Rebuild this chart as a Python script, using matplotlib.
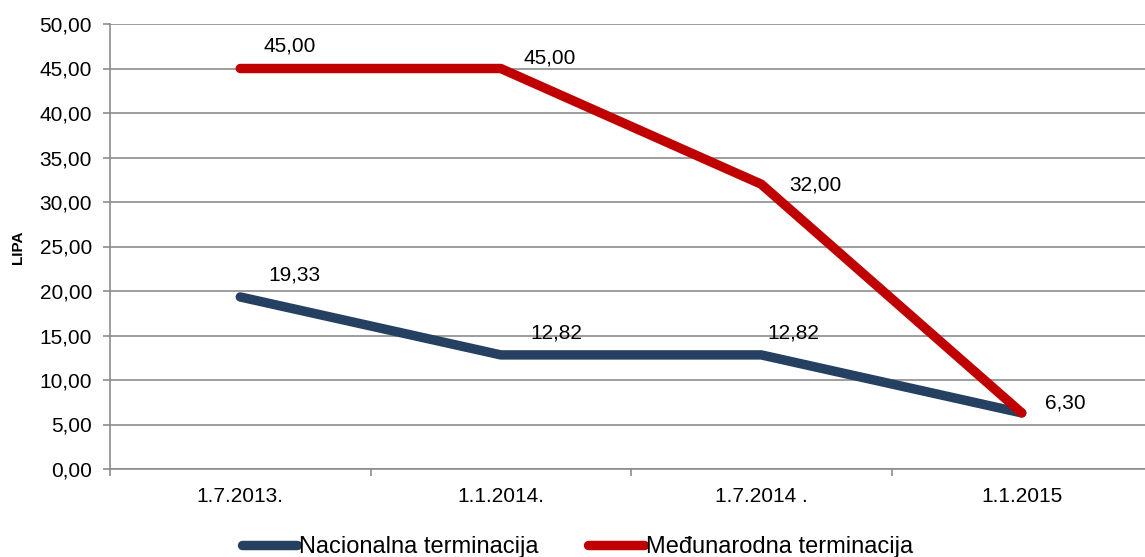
import matplotlib
matplotlib.use("Agg")
import matplotlib.pyplot as plt
from matplotlib.ticker import FixedLocator, MultipleLocator, FuncFormatter

plt.rcParams['font.family'] = ['Liberation Sans', 'DejaVu Sans']

categories = ["1.7.2013.", "1.1.2014.", "1.7.2014 .", "1.1.2015"]
nacionalna = [19.33, 12.82, 12.82, 6.30]
medjunarodna = [45.00, 45.00, 32.00, 6.30]
series_names = ["Nacionalna terminacija", "Međunarodna terminacija"]
ylabel = "LIPA"

fig = plt.figure(figsize=(11.45, 5.57), dpi=100)
ax = fig.add_axes([110/1145, 88/557, 1042/1145, 445/557])

x = list(range(len(categories)))
navy = "#254061"
red = "#C00000"
grey = "#8C8C8C"

l1, = ax.plot(x, nacionalna, color=navy, lw=6.8, solid_capstyle='round', solid_joinstyle='round', zorder=3)
l2, = ax.plot(x, medjunarodna, color=red, lw=6.8, solid_capstyle='round', solid_joinstyle='round', zorder=4)

fmt = lambda v: f"{v:.2f}".replace(".", ",")

# data label offsets in pixels (dx to left edge, dy to text centre)
nac_off = [(28, 22), (30, 22), (6, 22), None]
med_off = [(23, 22), (23, 11), (28, -1), (23, 10)]
px = 72 / 100
for vals, offs in ((nacionalna, nac_off), (medjunarodna, med_off)):
    for i, v in enumerate(vals):
        if offs[i] is None:
            continue
        ax.annotate(fmt(v), (x[i], v), xytext=(offs[i][0] * px, offs[i][1] * px),
                    textcoords='offset points', ha='left', va='center',
                    fontsize=15, color='black', zorder=5)

ax.set_xlim(-0.5, 3.5)
ax.set_ylim(0, 50)
ax.yaxis.set_major_locator(MultipleLocator(5))
ax.yaxis.set_major_formatter(FuncFormatter(lambda v, p: fmt(v)))
ax.set_xticks(x)
ax.set_xticklabels(categories)
ax.xaxis.set_minor_locator(FixedLocator([-0.5, 0.5, 1.5, 2.5, 3.5]))
ax.tick_params(axis='x', which='major', length=0, pad=13, labelsize=15)
ax.tick_params(axis='x', which='minor', length=5, color=grey, width=1.2)
ax.tick_params(axis='y', length=5, color=grey, width=1.2, labelsize=15, pad=8)

ax.grid(axis='y', color=grey, lw=1.2)
ax.set_axisbelow(True)
for s in ['top', 'right']:
    ax.spines[s].set_visible(False)
ax.spines['left'].set_color(grey)
ax.spines['bottom'].set_color(grey)
ax.spines['left'].set_linewidth(1.2)
ax.spines['bottom'].set_linewidth(1.2)

fig.text(18/1145, 1 - 247/557, ylabel, rotation=90, fontsize=11, fontweight='bold', ha='center', va='center')

fig.legend([l1, l2], series_names, loc='center', bbox_to_anchor=(577.5/1145, 1 - 547/557),
           ncol=2, frameon=False, fontsize=17, handlelength=2.35, handletextpad=0.1,
           columnspacing=2.1, borderpad=0, borderaxespad=0)

fig.savefig("out.png", dpi=100)
